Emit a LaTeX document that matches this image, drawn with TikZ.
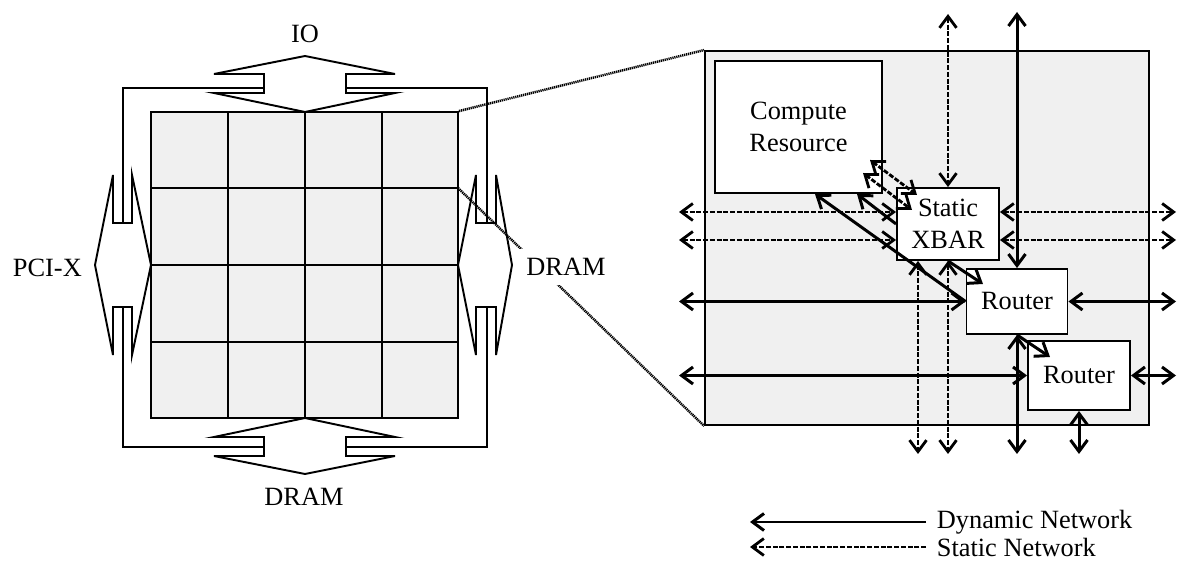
\documentclass[tikz,border=0pt]{standalone}
\usepackage{fontspec}
\setmainfont{Liberation Serif}
\usetikzlibrary{arrows.meta}
\definecolor{tilegray}{RGB}{240,240,240}

\begin{document}
\begin{tikzpicture}[x=0.02cm,y=-0.02cm,>={Straight Barb[length=2.3mm,width=3.4mm]},every node/.style={font=\fontsize{15}{18.5}\selectfont},block/.style={draw,line width=1.1pt,fill=white},frame/.style={draw,line width=1.1pt},panel/.style={rectangle,draw,line width=1.1pt,fill=tilegray,inner sep=0pt},box/.style={rectangle,draw,line width=1.1pt,fill=white,align=center,inner sep=2pt},dnet/.style={line width=1.7pt},snet/.style={line width=1.6pt,dash pattern=on 1mm off 0.35mm},zoomline/.style={line width=1.4pt,dash pattern=on 0.25mm off 0.15mm}]
\useasboundingbox (0,0) rectangle (1177,577);
% chip: 4x4 tiles
\node[panel,minimum width=6.14cm,minimum height=6.12cm] (chip) at (304.5,265) {};
\draw[frame] (228,112)--(228,418) (305,112)--(305,418) (382,112)--(382,418) (151,188)--(458,188) (151,265)--(458,265) (151,342)--(458,342);
% io ports
\draw[block] (305,56)--(395,74)--(346,74)--(346,93)--(395,93)--(305,112)--(214,93)--(264,93)--(264,74)--(214,74)--cycle;
\draw[block] (305,418)--(395,437)--(346,437)--(346,456)--(395,456)--(305,474)--(214,456)--(264,456)--(264,437)--(214,437)--cycle;
\draw[block] (95,265)--(113,175)--(113,223)--(132,223)--(132,175)--(151,265)--(132,355)--(132,307)--(113,307)--(113,355)--cycle;
\draw[block] (458,265)--(476,175)--(476,223)--(496,223)--(496,175)--(512,265)--(496,355)--(496,307)--(476,307)--(476,355)--cycle;
\draw[frame] (264,88)--(123,88)--(123,223) (123,307)--(123,447)--(264,447) (346,447)--(487,447)--(487,307) (487,223)--(487,88)--(346,88);
\node (io) at (305,34) {IO};
\node[anchor=east] (pcix) at (88,268) {PCI-X};
\node (drams) at (304,497) {DRAM};
% one tile, enlarged
\node[panel,minimum width=8.88cm,minimum height=7.48cm] (tile) at (927,238) {};
\coordinate (cellcorner) at (458,188);
\draw[zoomline] (chip.north east)--(tile.north west);
\draw[zoomline] (cellcorner)--(tile.south west);
\node[fill=white,inner sep=5pt] (drame) at (566,267) {DRAM};
\node[box,minimum width=3.34cm,minimum height=2.64cm] (cr) at (798.5,127) {Compute\\Resource};
\node[box,minimum width=2.04cm,minimum height=1.44cm] (xbar) at (948,224) {Static\\XBAR};
\node[box,minimum width=2.02cm,minimum height=1.3cm] (r1) at (1017,301.5) {Router};
\node[box,minimum width=2.04cm,minimum height=1.38cm] (r2) at (1079,375.5) {Router};
% free ends
\coordinate (sTop) at (948,14);
\coordinate (sWA) at (679,212);
\coordinate (sWB) at (679,240);
\coordinate (sEA) at (1176,212);
\coordinate (sEB) at (1176,240);
\coordinate (sBotA) at (918,454);
\coordinate (sBotB) at (948,454);
\coordinate (crA) at (870,160);
\coordinate (xbA) at (917,195);
\coordinate (crB) at (863,173);
\coordinate (xbB) at (912,210);
\coordinate (dTop) at (1017,12);
\coordinate (dWA) at (679,301.5);
\coordinate (dEA) at (1176,301.5);
\coordinate (dWB) at (679,375.5);
\coordinate (dEB) at (1176,375.5);
\coordinate (dBotA) at (1017,454);
\coordinate (dBotB) at (1079,454);
\coordinate (crC) at (815,194);
\coordinate (crD) at (857,194);
\coordinate (r1in) at (983,284);
\coordinate (r2in) at (1050,357);
% static network
\draw[snet,<->] (sTop)--(xbar.north);
\draw[snet,<->] (sWA)--(sWA -| xbar.west);
\draw[snet,<->] (sWB)--(sWB -| xbar.west);
\draw[snet,<->] (sEA -| xbar.east)--(sEA);
\draw[snet,<->] (sEB -| xbar.east)--(sEB);
\draw[snet,<->] (sBotA |- xbar.south)--(sBotA);
\draw[snet,<->] (xbar.south)--(sBotB);
\draw[snet,<->] (crA)--(xbA);
\draw[snet,<->] (crB)--(xbB);
% dynamic network
\draw[dnet,<->] (dTop)--(r1.north);
\draw[dnet,<->] (r1.south)--(dBotA);
\draw[dnet,<->] (dWA)--(r1.west);
\draw[dnet,<->] (r1.east)--(dEA);
\draw[dnet,<->] (dWB)--(r2.west);
\draw[dnet,<->] (r2.east)--(dEB);
\draw[dnet,<->] (r2.south)--(dBotB);
\draw[dnet,->] (r1.west)--(crC);
\draw[dnet,->] (xbar.west)--(crD);
\draw[dnet,->] (xbar.south)--(r1in);
\draw[dnet,->] (r1.south)--(r2in);
% legend
\node[anchor=west,inner sep=6pt] (legdyn) at (926,522) {Dynamic Network};
\node[anchor=west,inner sep=6pt] (legsta) at (926,547) {Static Network};
\coordinate (legdynend) at (750,522);
\coordinate (legstaend) at (750,547);
\draw[dnet,->] (legdyn.west)--(legdynend);
\draw[snet,->] (legsta.west)--(legstaend);
\end{tikzpicture}
\end{document}
